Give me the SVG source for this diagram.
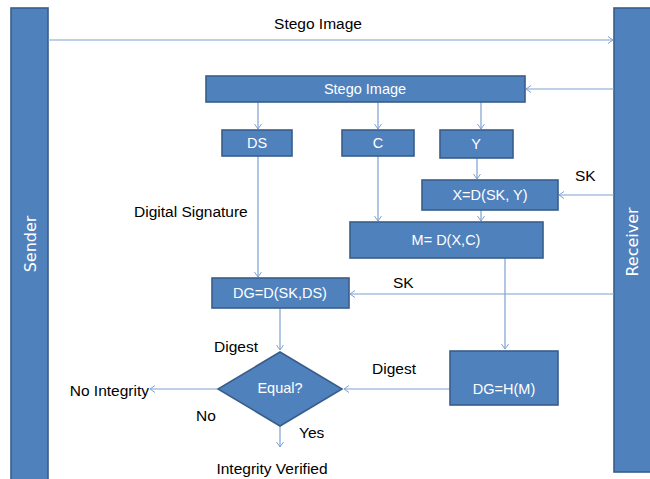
<svg xmlns="http://www.w3.org/2000/svg" width="650" height="479" viewBox="0 0 650 479">
<defs>
<marker id="arr" markerWidth="8" markerHeight="8" refX="6" refY="4" orient="auto" markerUnits="userSpaceOnUse">
<path d="M1,0.5 L6,4 L1,7.5" fill="none" stroke="#7EA1D0" stroke-width="1"/>
</marker>
<style>
.box{fill:#4F81BD;stroke:#385D8A;stroke-width:1.6}
.wt{fill:#fff;font-family:"Liberation Sans",Arial,sans-serif;font-size:14.5px;text-anchor:middle;dominant-baseline:central}
.bt{fill:#000;font-family:"Liberation Sans",Arial,sans-serif;font-size:15.5px}
.vt{fill:#fff;font-family:"DejaVu Sans",Verdana,sans-serif;font-size:16px;text-anchor:middle;dominant-baseline:central}
.c{fill:none;stroke:#7EA1D0;stroke-width:1.2}
.a{marker-end:url(#arr)}
</style>
</defs>
<rect width="650" height="479" fill="#fff"/>
<g id="sender">
<rect class="box" x="11" y="8" width="37" height="475"/>
<text class="vt" transform="translate(30,244) rotate(-90)">Sender</text>
</g>
<g id="receiver">
<rect class="box" x="614" y="8" width="38" height="464"/>
<text class="vt" transform="translate(632,242) rotate(-90)">Receiver</text>
</g>
<g id="connectors">
<line class="c a" x1="48" y1="40" x2="613" y2="40"/>
<line class="c a" x1="614" y1="89" x2="526" y2="89"/>
<line class="c a" x1="258" y1="102" x2="258" y2="129"/>
<line class="c a" x1="378" y1="102" x2="378" y2="129"/>
<line class="c a" x1="481" y1="102" x2="481" y2="129"/>
<line class="c a" x1="477" y1="158" x2="477" y2="179"/>
<line class="c a" x1="614" y1="195" x2="559" y2="195"/>
<line class="c a" x1="481" y1="210" x2="481" y2="221"/>
<line class="c a" x1="378" y1="156" x2="378" y2="221"/>
<line class="c a" x1="258" y1="156" x2="258" y2="277"/>
<line class="c a" x1="614" y1="294" x2="350" y2="294"/>
<line class="c a" x1="505" y1="246" x2="505" y2="349"/>
<line class="c a" x1="280" y1="308" x2="280" y2="350"/>
<line class="c a" x1="450" y1="389" x2="344" y2="389"/>
<line class="c a" x1="217" y1="389" x2="150" y2="389"/>
<line class="c a" x1="280" y1="426" x2="280" y2="447"/>
</g>
<g id="stego">
<rect class="box" x="206" y="76" width="319" height="26"/>
<text class="wt" x="365" y="89">Stego Image</text>
</g>
<g id="ds">
<rect class="box" x="222" y="130" width="70" height="26"/>
<text class="wt" x="257" y="143">DS</text>
</g>
<g id="c">
<rect class="box" x="342" y="130" width="72" height="26"/>
<text class="wt" x="378" y="143">C</text>
</g>
<g id="y">
<rect class="box" x="440" y="130" width="73" height="28"/>
<text class="wt" x="476" y="144">Y</text>
</g>
<g id="x">
<rect class="box" x="422" y="180" width="136" height="30"/>
<text class="wt" x="490" y="195">X=D(SK, Y)</text>
</g>
<g id="m">
<rect class="box" x="350" y="222" width="193" height="36"/>
<text class="wt" x="446" y="240">M= D(X,C)</text>
</g>
<g id="dgd">
<rect class="box" x="212" y="278" width="137" height="30"/>
<text class="wt" x="280" y="293">DG=D(SK,DS)</text>
</g>
<g id="dgh">
<rect class="box" x="450" y="351" width="108" height="54"/>
<text class="wt" x="504" y="389">DG=H(M)</text>
</g>
<g id="equal">
<polygon class="box" points="280,352 342,389 280,426 218,389"/>
<text class="wt" x="280" y="388">Equal?</text>
</g>
<g id="labels">
<text class="bt" x="318" y="29" text-anchor="middle">Stego Image</text>
<text class="bt" x="575" y="181">SK</text>
<text class="bt" x="134" y="217">Digital Signature</text>
<text class="bt" x="393" y="288">SK</text>
<text class="bt" x="214" y="352">Digest</text>
<text class="bt" x="372" y="374">Digest</text>
<text class="bt" x="149" y="396" text-anchor="end">No Integrity</text>
<text class="bt" x="196" y="421">No</text>
<text class="bt" x="299" y="438">Yes</text>
<text class="bt" x="272" y="474" text-anchor="middle">Integrity Verified</text>
</g>
</svg>
